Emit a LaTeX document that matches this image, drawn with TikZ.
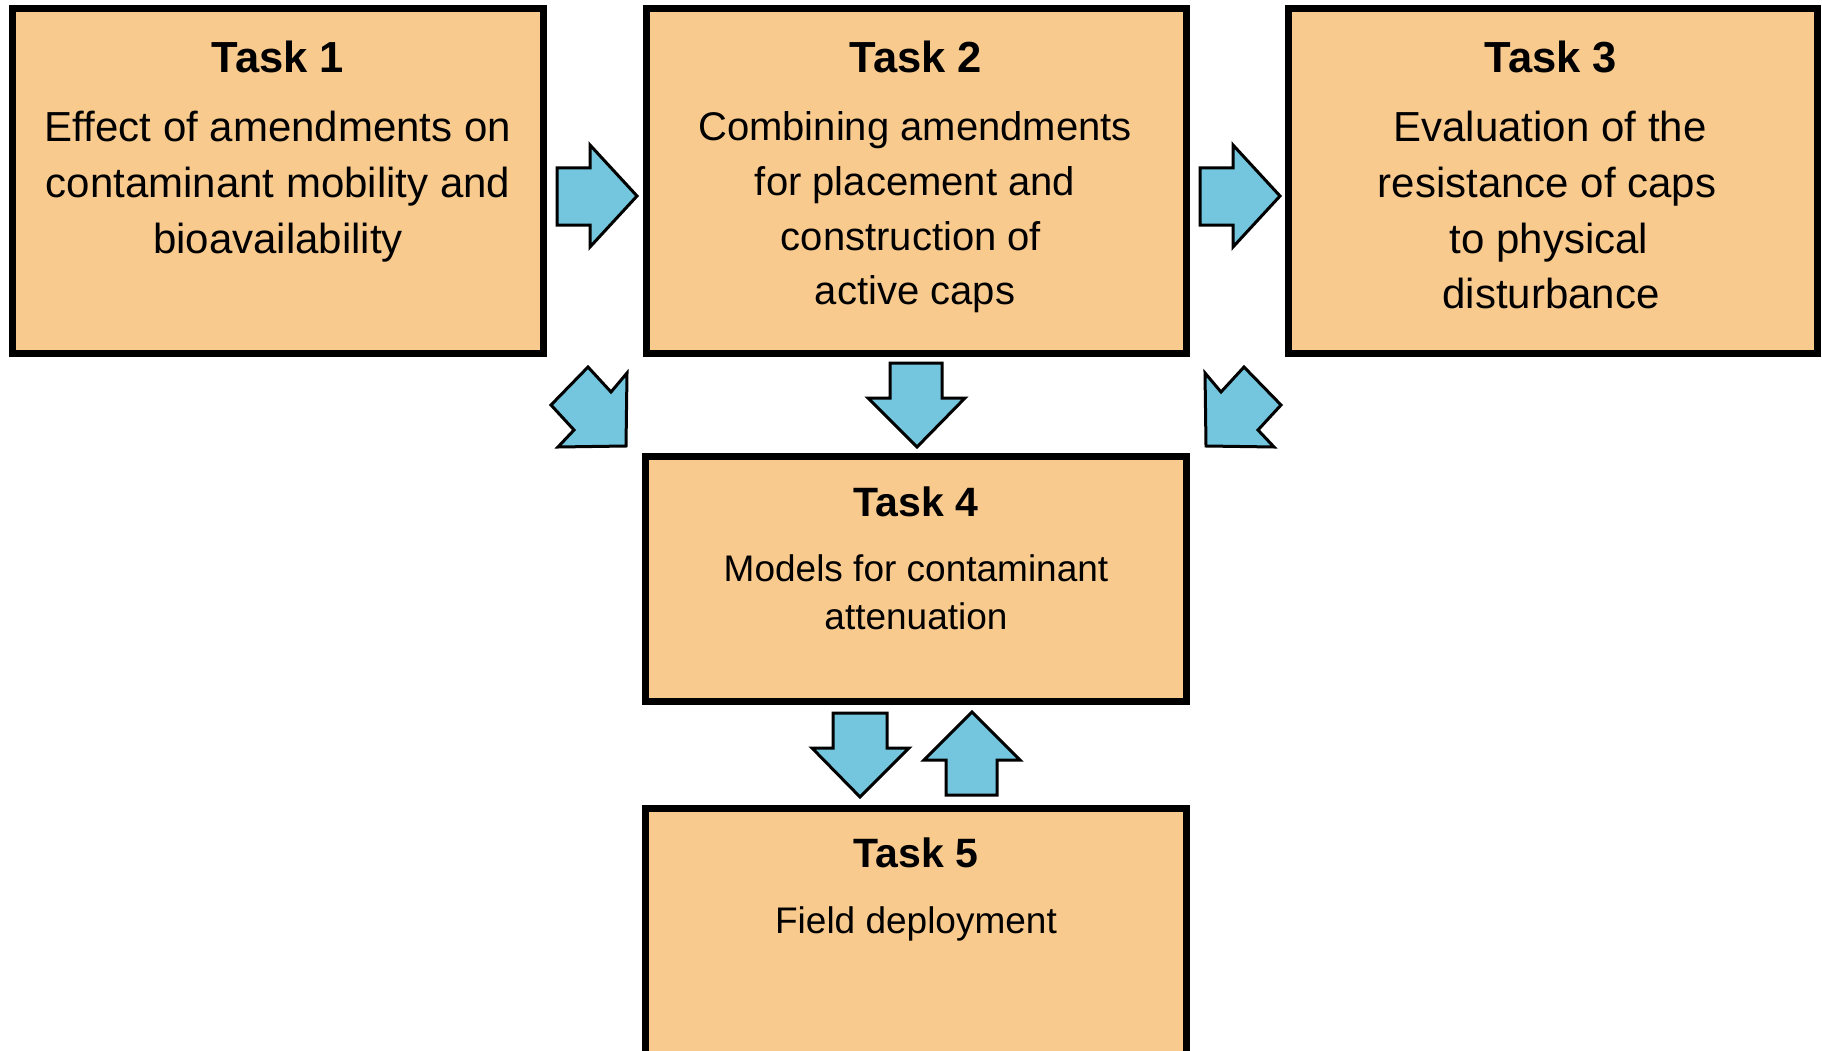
\documentclass[tikz,border=0pt]{standalone}
\usepackage{fontspec}
\setmainfont{Liberation Sans}
\definecolor{boxfill}{RGB}{249,202,142}
\definecolor{arrowfill}{RGB}{115,198,222}
\begin{document}
\begin{tikzpicture}[x=1pt,y=-1pt,
  taskbox/.style={draw=black, fill=boxfill, line width=7pt, inner sep=0pt},
  blockarrow/.style={draw=black, fill=arrowfill, line width=3pt, line join=miter},
  ttlbig/.style={anchor=base, inner sep=0pt, font=\bfseries\fontsize{43.5}{50}\selectfont},
  ttlsmall/.style={anchor=base, inner sep=0pt, font=\bfseries\fontsize{41}{48}\selectfont},
  txtA/.style={anchor=base, inner sep=0pt, font=\fontsize{42}{50}\selectfont},
  txtB/.style={anchor=base, inner sep=0pt, font=\fontsize{40}{48}\selectfont},
  txtC/.style={anchor=base, inner sep=0pt, font=\fontsize{37}{44}\selectfont}]
\useasboundingbox (0,0) rectangle (1822,1051);
\clip (0,0) rectangle (1822,1051);
\fill[white] (0,0) rectangle (1822,1051);

% boxes
\node[taskbox, minimum width=531pt, minimum height=344.5pt] (t1) at (278,181.25) {};
\node[taskbox, minimum width=540.5pt, minimum height=344.5pt] (t2) at (916.25,181.25) {};
\node[taskbox, minimum width=528.5pt, minimum height=344.5pt] (t3) at (1552.75,181.25) {};
\node[taskbox, minimum width=541.5pt, minimum height=244.5pt] (t4) at (915.75,578.75) {};
\node[taskbox, minimum width=541.5pt, minimum height=262pt] (t5) at (915.75,939) {};

% Task 1 text
\node[ttlbig] (t1h) at (278,73) {Task 1};
\node[txtA] (t1a) at (278,142) {Effect of amendments on};
\node[txtA] (t1b) at (278,197.5) {contaminant mobility and};
\node[txtA] (t1c) at (278,253) {bioavailability};

% Task 2 text
\node[ttlbig] (t2h) at (916,73) {Task 2};
\node[txtB] (t2a) at (915,141) {Combining amendments};
\node[txtB] (t2b) at (915,195.5) {for placement and};
\node[txtB] (t2c) at (911,250) {construction of};
\node[txtB] (t2d) at (915,304) {active caps};

% Task 3 text
\node[ttlbig] (t3h) at (1551,73) {Task 3};
\node[txtA] (t3a) at (1550,142) {Evaluation of the};
\node[txtA] (t3b) at (1547,197.5) {resistance of caps};
\node[txtA] (t3c) at (1549,253) {to physical};
\node[txtA] (t3d) at (1551,308) {disturbance};

% Task 4 text
\node[ttlsmall] (t4h) at (916,516) {Task 4};
\node[txtC] (t4a) at (916,581) {Models for contaminant};
\node[txtC] (t4b) at (916,629) {attenuation};

% Task 5 text
\node[ttlsmall] (t5h) at (916,867) {Task 5};
\node[txtC] (t5a) at (916,933) {Field deployment};

% block arrows
\draw[blockarrow] (557,168) -- (590,168) -- (590,145) -- (637,196) -- (590,247) -- (590,225) -- (557,225) -- cycle;
\draw[blockarrow] (1200,168) -- (1233,168) -- (1233,145) -- (1280,196) -- (1233,247) -- (1233,225) -- (1200,225) -- cycle;
\draw[blockarrow] (890,363) -- (942,363) -- (942,398) -- (965,398) -- (917,447) -- (868,398) -- (890,398) -- cycle;
\draw[blockarrow] (551,405) -- (588,367) -- (611,392) -- (627,373) -- (626,446) -- (558,447) -- (574,430) -- cycle;
\draw[blockarrow] (1281,405) -- (1244,367) -- (1221,392) -- (1205,373) -- (1206,446) -- (1274,447) -- (1258,430) -- cycle;
\draw[blockarrow] (833,713) -- (887,713) -- (887,748) -- (909,748) -- (860,797) -- (812,748) -- (833,748) -- cycle;
\draw[blockarrow] (972,712) -- (1020,760) -- (997,760) -- (997,795) -- (946,795) -- (946,760) -- (924,760) -- cycle;
\end{tikzpicture}
\end{document}
